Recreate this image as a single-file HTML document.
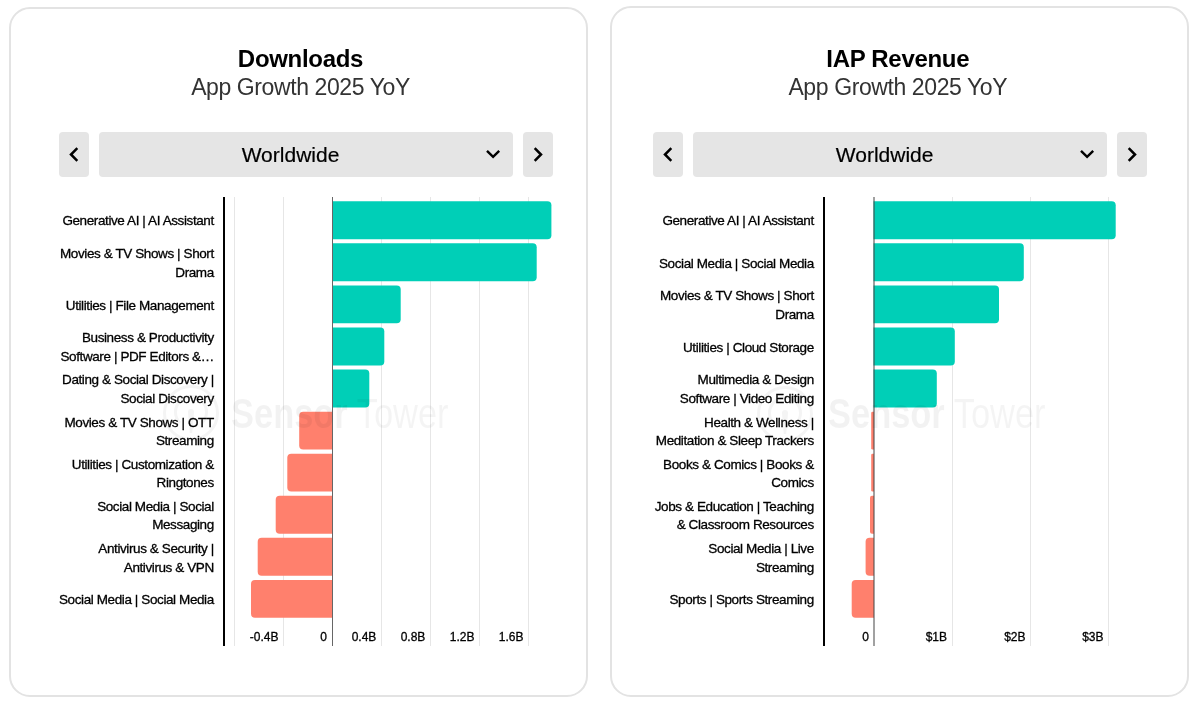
<!DOCTYPE html>
<html><head><meta charset="utf-8">
<style>
html,body{margin:0;padding:0;background:#fff;width:1197px;height:711px;overflow:hidden;position:relative;font-family:"Liberation Sans",sans-serif;}
#root{position:absolute;left:0;top:0;width:1197px;height:711px;will-change:transform;}
.card{position:absolute;box-sizing:border-box;border:2px solid #e3e3e3;border-radius:21px;}
.lab{position:absolute;font-size:13.5px;line-height:18.8px;letter-spacing:-0.4px;color:#000;-webkit-text-stroke:0.3px #000;text-align:right;white-space:nowrap;}
.tk{position:absolute;font-size:12px;line-height:14px;color:#000;-webkit-text-stroke:0.3px #000;white-space:nowrap;}
.btn{position:absolute;top:132px;width:30px;height:45px;background:#e5e5e5;border-radius:4px;}
.dd{position:absolute;top:132px;height:45px;background:#e5e5e5;border-radius:4px;}
.ddt{position:absolute;top:143px;width:200px;text-align:center;font-size:21px;line-height:24px;color:#000;-webkit-text-stroke:0.2px #000;}
.ic{position:absolute;}
.t1{position:absolute;top:45px;width:300px;text-align:center;font-size:24px;line-height:28px;font-weight:bold;letter-spacing:-0.3px;color:#000;}
.t2{position:absolute;top:74px;width:300px;text-align:center;font-size:23px;line-height:26px;letter-spacing:-0.4px;color:#333;}
.wm{position:absolute;}
.wmt{position:absolute;top:390px;font-size:42px;line-height:48px;color:rgba(0,0,0,0.045);white-space:nowrap;}
.wmt span{display:inline-block;transform-origin:0 0;transform:scaleX(0.82);}
.wmt b{font-weight:bold;color:rgba(0,0,0,0.05);}
svg.chart{position:absolute;left:0;top:0;}
</style></head><body><div id="root">
<div class="card" style="left:9px;top:7px;width:579px;height:690px"></div>
<div class="card" style="left:610px;top:6px;width:579px;height:691px"></div>
<div class="t1" style="left:150.5px">Downloads</div><div class="t2" style="left:150.5px">App Growth 2025 YoY</div>
<div class="t1" style="left:747.8px">IAP Revenue</div><div class="t2" style="left:747.8px">App Growth 2025 YoY</div>
<div class="btn" style="left:59px"></div>
<svg class="ic" style="left:59px;top:132px" width="30" height="45" viewBox="0 0 30 45"><polyline points="18.3,16.2 12,22.5 18.3,28.8" fill="none" stroke="#000" stroke-width="2.5"/></svg>
<div class="dd" style="left:99px;width:414px"></div>
<div class="ddt" style="left:190.5px">Worldwide</div>
<svg class="ic" style="left:482.5px;top:144px" width="20" height="20" viewBox="0 0 20 20"><polyline points="4,6.8 10.1,12.9 16.2,6.8" fill="none" stroke="#000" stroke-width="2.4"/></svg>
<div class="btn" style="left:523px"></div>
<svg class="ic" style="left:523px;top:132px" width="30" height="45" viewBox="0 0 30 45"><polyline points="11.7,16.2 18,22.5 11.7,28.8" fill="none" stroke="#000" stroke-width="2.5"/></svg>
<div class="btn" style="left:653px"></div>
<svg class="ic" style="left:653px;top:132px" width="30" height="45" viewBox="0 0 30 45"><polyline points="18.3,16.2 12,22.5 18.3,28.8" fill="none" stroke="#000" stroke-width="2.5"/></svg>
<div class="dd" style="left:693px;width:414px"></div>
<div class="ddt" style="left:784.6px">Worldwide</div>
<svg class="ic" style="left:1076.5px;top:144px" width="20" height="20" viewBox="0 0 20 20"><polyline points="4,6.8 10.1,12.9 16.2,6.8" fill="none" stroke="#000" stroke-width="2.4"/></svg>
<div class="btn" style="left:1117px"></div>
<svg class="ic" style="left:1117px;top:132px" width="30" height="45" viewBox="0 0 30 45"><polyline points="11.7,16.2 18,22.5 11.7,28.8" fill="none" stroke="#000" stroke-width="2.5"/></svg>
<svg class="chart" width="1197" height="711" viewBox="0 0 1197 711">
<rect x="234" y="197" width="1" height="449" fill="#e6e6e6"/>
<rect x="283" y="197" width="1" height="449" fill="#e6e6e6"/>
<rect x="381" y="197" width="1" height="449" fill="#e6e6e6"/>
<rect x="430" y="197" width="1" height="449" fill="#e6e6e6"/>
<rect x="479" y="197" width="1" height="449" fill="#e6e6e6"/>
<rect x="528" y="197" width="1" height="449" fill="#e6e6e6"/>
<path d="M332.00,201.30 L547.40,201.30 A4.00,4.00 0 0 1 551.40,205.30 L551.40,235.20 A4.00,4.00 0 0 1 547.40,239.20 L332.00,239.20 Z" fill="#00CFB7"/>
<path d="M332.00,243.37 L532.70,243.37 A4.00,4.00 0 0 1 536.70,247.37 L536.70,277.27 A4.00,4.00 0 0 1 532.70,281.27 L332.00,281.27 Z" fill="#00CFB7"/>
<path d="M332.00,285.44 L396.70,285.44 A4.00,4.00 0 0 1 400.70,289.44 L400.70,319.34 A4.00,4.00 0 0 1 396.70,323.34 L332.00,323.34 Z" fill="#00CFB7"/>
<path d="M332.00,327.51 L380.30,327.51 A4.00,4.00 0 0 1 384.30,331.51 L384.30,361.41 A4.00,4.00 0 0 1 380.30,365.41 L332.00,365.41 Z" fill="#00CFB7"/>
<path d="M332.00,369.58 L365.30,369.58 A4.00,4.00 0 0 1 369.30,373.58 L369.30,403.48 A4.00,4.00 0 0 1 365.30,407.48 L332.00,407.48 Z" fill="#00CFB7"/>
<path d="M332.50,411.65 L303.20,411.65 A4.00,4.00 0 0 0 299.20,415.65 L299.20,445.55 A4.00,4.00 0 0 0 303.20,449.55 L332.50,449.55 Z" fill="#FF806D"/>
<path d="M332.50,453.72 L291.30,453.72 A4.00,4.00 0 0 0 287.30,457.72 L287.30,487.62 A4.00,4.00 0 0 0 291.30,491.62 L332.50,491.62 Z" fill="#FF806D"/>
<path d="M332.50,495.79 L279.70,495.79 A4.00,4.00 0 0 0 275.70,499.79 L275.70,529.69 A4.00,4.00 0 0 0 279.70,533.69 L332.50,533.69 Z" fill="#FF806D"/>
<path d="M332.50,537.86 L261.70,537.86 A4.00,4.00 0 0 0 257.70,541.86 L257.70,571.76 A4.00,4.00 0 0 0 261.70,575.76 L332.50,575.76 Z" fill="#FF806D"/>
<path d="M332.50,579.93 L255.00,579.93 A4.00,4.00 0 0 0 251.00,583.93 L251.00,613.83 A4.00,4.00 0 0 0 255.00,617.83 L332.50,617.83 Z" fill="#FF806D"/>
<rect x="332" y="197" width="1" height="449" fill="#666"/>
<rect x="223" y="197" width="2" height="449" fill="#000"/>
<rect x="952" y="197" width="1" height="449" fill="#e6e6e6"/>
<rect x="1030" y="197" width="1" height="449" fill="#e6e6e6"/>
<rect x="1108" y="197" width="1" height="449" fill="#e6e6e6"/>
<path d="M873.50,201.30 L1111.70,201.30 A4.00,4.00 0 0 1 1115.70,205.30 L1115.70,235.20 A4.00,4.00 0 0 1 1111.70,239.20 L873.50,239.20 Z" fill="#00CFB7"/>
<path d="M873.50,243.37 L1019.80,243.37 A4.00,4.00 0 0 1 1023.80,247.37 L1023.80,277.27 A4.00,4.00 0 0 1 1019.80,281.27 L873.50,281.27 Z" fill="#00CFB7"/>
<path d="M873.50,285.44 L995.00,285.44 A4.00,4.00 0 0 1 999.00,289.44 L999.00,319.34 A4.00,4.00 0 0 1 995.00,323.34 L873.50,323.34 Z" fill="#00CFB7"/>
<path d="M873.50,327.51 L950.80,327.51 A4.00,4.00 0 0 1 954.80,331.51 L954.80,361.41 A4.00,4.00 0 0 1 950.80,365.41 L873.50,365.41 Z" fill="#00CFB7"/>
<path d="M873.50,369.58 L932.80,369.58 A4.00,4.00 0 0 1 936.80,373.58 L936.80,403.48 A4.00,4.00 0 0 1 932.80,407.48 L873.50,407.48 Z" fill="#00CFB7"/>
<path d="M874.00,411.65 L872.60,411.65 A1.40,1.40 0 0 0 871.20,413.05 L871.20,448.15 A1.40,1.40 0 0 0 872.60,449.55 L874.00,449.55 Z" fill="#FF806D"/>
<path d="M874.00,453.72 L872.60,453.72 A1.40,1.40 0 0 0 871.20,455.12 L871.20,490.22 A1.40,1.40 0 0 0 872.60,491.62 L874.00,491.62 Z" fill="#FF806D"/>
<path d="M874.00,495.79 L872.00,495.79 A2.00,2.00 0 0 0 870.00,497.79 L870.00,531.69 A2.00,2.00 0 0 0 872.00,533.69 L874.00,533.69 Z" fill="#FF806D"/>
<path d="M874.00,537.86 L869.60,537.86 A4.00,4.00 0 0 0 865.60,541.86 L865.60,571.76 A4.00,4.00 0 0 0 869.60,575.76 L874.00,575.76 Z" fill="#FF806D"/>
<path d="M874.00,579.93 L855.70,579.93 A4.00,4.00 0 0 0 851.70,583.93 L851.70,613.83 A4.00,4.00 0 0 0 855.70,617.83 L874.00,617.83 Z" fill="#FF806D"/>
<rect x="873.5" y="197" width="1" height="449" fill="#444"/>
<rect x="823" y="197" width="2" height="449" fill="#000"/>
</svg>
<div class="lab" style="right:983.20px;top:212.40px">Generative AI | AI Assistant</div>
<div class="lab" style="right:983.20px;top:245.10px">Movies &amp; TV Shows | Short<br>Drama</div>
<div class="lab" style="right:983.20px;top:296.60px">Utilities | File Management</div>
<div class="lab" style="right:983.20px;top:329.30px">Business &amp; Productivity<br>Software | PDF Editors &amp;…</div>
<div class="lab" style="right:983.20px;top:371.40px">Dating &amp; Social Discovery |<br>Social Discovery</div>
<div class="lab" style="right:983.20px;top:413.50px">Movies &amp; TV Shows | OTT<br>Streaming</div>
<div class="lab" style="right:983.20px;top:455.60px">Utilities | Customization &amp;<br>Ringtones</div>
<div class="lab" style="right:983.20px;top:497.70px">Social Media | Social<br>Messaging</div>
<div class="lab" style="right:983.20px;top:539.80px">Antivirus &amp; Security |<br>Antivirus &amp; VPN</div>
<div class="lab" style="right:983.20px;top:591.30px">Social Media | Social Media</div>
<div class="lab" style="right:383.20px;top:212.40px">Generative AI | AI Assistant</div>
<div class="lab" style="right:383.20px;top:254.50px">Social Media | Social Media</div>
<div class="lab" style="right:383.20px;top:287.20px">Movies &amp; TV Shows | Short<br>Drama</div>
<div class="lab" style="right:383.20px;top:338.70px">Utilities | Cloud Storage</div>
<div class="lab" style="right:383.20px;top:371.40px">Multimedia &amp; Design<br>Software | Video Editing</div>
<div class="lab" style="right:383.20px;top:413.50px">Health &amp; Wellness |<br>Meditation &amp; Sleep Trackers</div>
<div class="lab" style="right:383.20px;top:455.60px">Books &amp; Comics | Books &amp;<br>Comics</div>
<div class="lab" style="right:383.20px;top:497.70px">Jobs &amp; Education | Teaching<br>&amp; Classroom Resources</div>
<div class="lab" style="right:383.20px;top:539.80px">Social Media | Live<br>Streaming</div>
<div class="lab" style="right:383.20px;top:591.30px">Sports | Sports Streaming</div>
<div class="tk" style="right:918.50px;top:630px">-0.4B</div>
<div class="tk" style="right:870.00px;top:630px">0</div>
<div class="tk" style="right:820.70px;top:630px">0.4B</div>
<div class="tk" style="right:771.70px;top:630px">0.8B</div>
<div class="tk" style="right:722.50px;top:630px">1.2B</div>
<div class="tk" style="right:673.50px;top:630px">1.6B</div>
<div class="tk" style="right:328.00px;top:630px">0</div>
<div class="tk" style="right:250.00px;top:630px">$1B</div>
<div class="tk" style="right:171.50px;top:630px">$2B</div>
<div class="tk" style="right:93.50px;top:630px">$3B</div>
<svg class="wm" style="left:161px;top:383px" width="60" height="60" viewBox="0 0 60 60"><g opacity="0.045"><circle cx="30" cy="30" r="26.5" fill="none" stroke="#000" stroke-width="3"/><path d="M19 40 A15.5 15.5 0 1 1 41 40" fill="none" stroke="#000" stroke-width="3"/><path d="M27 29 A3 3 0 1 1 33 29 L31.2 50 L28.8 50 Z" fill="#000"/></g></svg><div class="wmt" style="left:231px;width:218px"><span><b>Sensor</b> Tower</span></div>
<svg class="wm" style="left:754.7px;top:384px" width="60" height="60" viewBox="0 0 60 60"><g opacity="0.045"><circle cx="30" cy="30" r="26.5" fill="none" stroke="#000" stroke-width="3"/><path d="M19 40 A15.5 15.5 0 1 1 41 40" fill="none" stroke="#000" stroke-width="3"/><path d="M27 29 A3 3 0 1 1 33 29 L31.2 50 L28.8 50 Z" fill="#000"/></g></svg><div class="wmt" style="left:828px;width:216px"><span><b>Sensor</b> Tower</span></div>
</div></body></html>
